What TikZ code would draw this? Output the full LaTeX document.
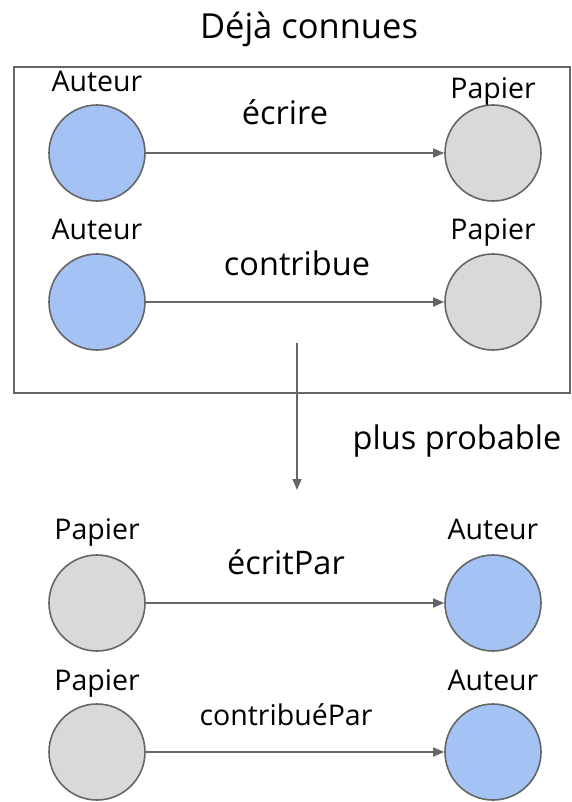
\documentclass[tikz,border=0pt]{standalone}
\usepackage{fontspec}
\setmainfont{Open Sans}
\usetikzlibrary{arrows.meta}
\definecolor{blueA}{HTML}{A4C2F4}
\definecolor{greyA}{HTML}{D9D9D9}
\definecolor{lineA}{HTML}{666666}
\tikzset{
  ent/.style={circle, draw=lineA, line width=1.6pt, minimum size=96pt, inner sep=0pt},
  auteur/.style={ent, fill=blueA},
  papier/.style={ent, fill=greyA},
  lbl/.style={anchor=base, inner sep=0pt, font=\fontsize{28.5}{28.5}\selectfont},
  rel/.style={anchor=base, inner sep=0pt, font=\fontsize{32.5}{32.5}\selectfont},
  relsmall/.style={anchor=base, inner sep=0pt, font=\fontsize{28.5}{28.5}\selectfont},
  link/.style={draw=lineA, line width=1.6pt, -{Triangle[length=11pt,width=9pt]}},
}
\begin{document}
\begin{tikzpicture}[x=1pt,y=-1pt]
\useasboundingbox[fill=white] (0,0) rectangle (572,802);
% title and framed group
\node[anchor=base, inner sep=0pt, font=\fontsize{34.5}{34.5}\selectfont] (title) at (309,39) {Déjà connues};
\node[draw=lineA, line width=1.3pt, minimum width=556pt, minimum height=326pt, inner sep=0pt] (frame) at (292,230) {};

% known facts
\node[auteur] (a1) at (97,153) {};
\node[papier] (p1) at (493,153) {};
\node[lbl] (la1) at (97,92) {Auteur};
\node[lbl] (lp1) at (493,99) {Papier};
\draw[link] (a1) -- (p1);
\node[rel] (r1) at (285,125) {écrire};

\node[auteur] (a2) at (97,302) {};
\node[papier] (p2) at (493,302) {};
\node[lbl] (la2) at (97,239) {Auteur};
\node[lbl] (lp2) at (493,239) {Papier};
\draw[link] (a2) -- (p2);
\node[rel] (r2) at (297,275) {contribue};

% inference
\coordinate (s) at (297,343);
\coordinate (e) at (297,490);
\draw[link] (s) -- (e);
\node[rel] (pp) at (457,449) {plus probable};

% inferred facts
\node[papier] (p3) at (97,603) {};
\node[auteur] (a3) at (493,603) {};
\node[lbl] (lp3) at (97,539) {Papier};
\node[lbl] (la3) at (493,539) {Auteur};
\draw[link] (p3) -- (a3);
\node[rel] (r3) at (286,574) {écritPar};

\node[papier] (p4) at (97,752) {};
\node[auteur] (a4) at (493,752) {};
\node[lbl] (lp4) at (97,690) {Papier};
\node[lbl] (la4) at (493,690) {Auteur};
\draw[link] (p4) -- (a4);
\node[relsmall] (r4) at (286,725) {contribuéPar};
\end{tikzpicture}
\end{document}
